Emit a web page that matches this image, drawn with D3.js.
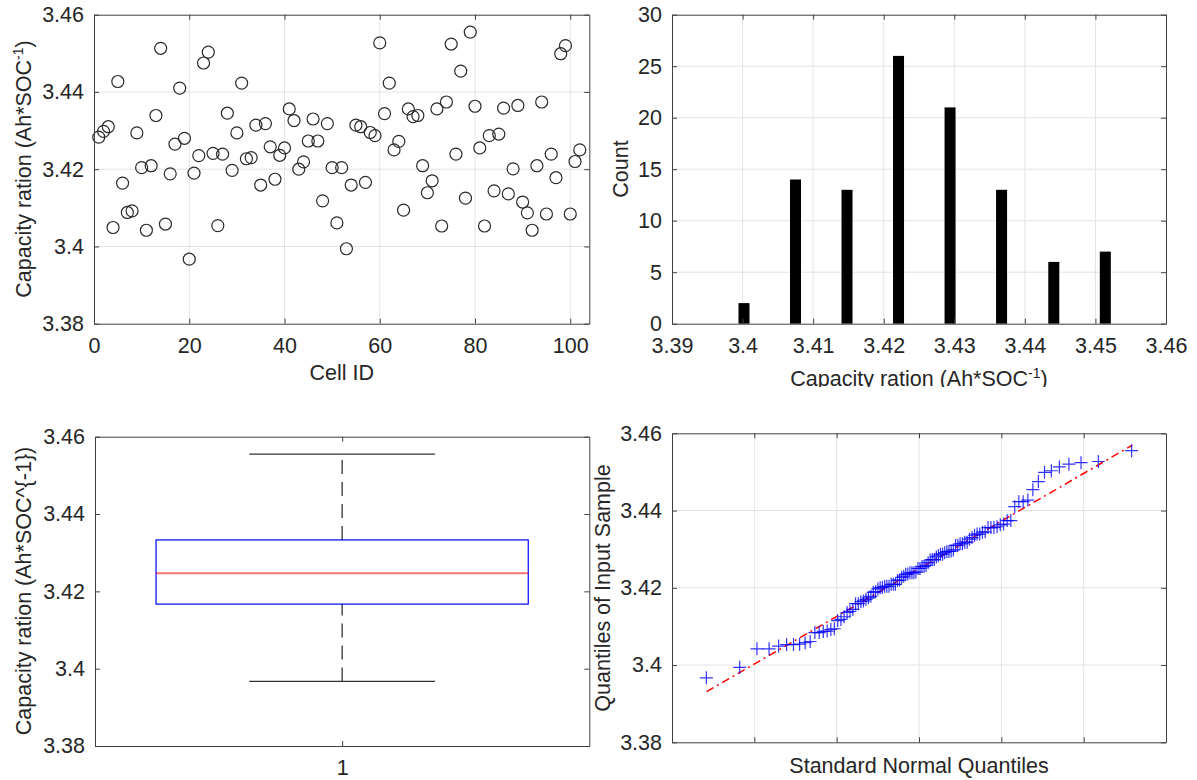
<!DOCTYPE html>
<html>
<head>
<meta charset="utf-8">
<script src="https://cdn.jsdelivr.net/npm/d3@7/dist/d3.min.js"></script>
<style>
body { margin: 0; background: #fff; }
svg text { font-family: "Liberation Sans", Arial, Helvetica, sans-serif; fill: #262626; }
</style>
</head>
<body>
<div id="fig"></div>
<script>

// capacity ratio per cell, cell 1..102
var capacity = [
    3.4283, 3.4298, 3.4310, 3.4049, 3.4427, 3.4164, 3.4088, 3.4092, 3.4294, 3.4204,
    3.4042, 3.4209, 3.4339, 3.4513, 3.4058, 3.4188, 3.4265, 3.4410, 3.4280, 3.3967,
    3.4190, 3.4235, 3.4475, 3.4503, 3.4241, 3.4054, 3.4239, 3.4345, 3.4197, 3.4294,
    3.4423, 3.4227, 3.4230, 3.4314, 3.4159, 3.4318, 3.4258, 3.4174, 3.4236, 3.4255,
    3.4356, 3.4326, 3.4200, 3.4219, 3.4273, 3.4330, 3.4273, 3.4118, 3.4318, 3.4204,
    3.4061, 3.4204, 3.3994, 3.4159, 3.4314, 3.4310, 3.4166, 3.4295, 3.4287, 3.4527,
    3.4344, 3.4423, 3.4250, 3.4272, 3.4094, 3.4356, 3.4336, 3.4339, 3.4209, 3.4139,
    3.4170, 3.4356, 3.4053, 3.4374, 3.4524, 3.4239, 3.4454, 3.4125, 3.4555, 3.4363,
    3.4255, 3.4053, 3.4287, 3.4144, 3.4291, 3.4358, 3.4136, 3.4201, 3.4365, 3.4115,
    3.4087, 3.4042, 3.4209, 3.4374, 3.4084, 3.4239, 3.4178, 3.4499, 3.4520, 3.4084,
    3.4220, 3.4250
];
var cellId = d3.range(1, capacity.length + 1);

// histogram (8 bins)
var histCenters = [3.4002, 3.4075, 3.4148, 3.4221, 3.4294, 3.4367, 3.4441, 3.4514];
var histCounts = [2, 14, 13, 26, 21, 13, 6, 7];

// boxplot: lower whisker, q1, median, q3, upper whisker
var boxStats = [3.3967, 3.4167, 3.4247, 3.4333, 3.4555];

// qq reference line end points
var qqLineX = [-2.58, 2.59];
var qqLineY = [3.3931, 3.4569];

// ticks
var capTicks = [3.38, 3.40, 3.42, 3.44, 3.46];
var cellTicks = [0, 20, 40, 60, 80, 100];
var histXTicks = [3.39, 3.40, 3.41, 3.42, 3.43, 3.44, 3.45, 3.46];
var countTicks = [0, 5, 10, 15, 20, 25, 30];
var qqXTicks = [-2, -1, 0, 1, 2];

var fmt = d3.format("~g");
var axisColor = "#404040";
var gridColor = "#e3e3e3";
var fontSize = 21.5;

var svg = d3.select("#fig")
    .append("svg")
    .attr("width", 1197)
    .attr("height", 780);

// inverse normal cdf (Acklam)
function norminv(p) {
    var a = [-39.69683028665376, 220.9460984245205, -275.9285104469687, 138.3577518672690, -30.66479806614716, 2.506628277459239];
    var b = [-54.47609879822406, 161.5858368580409, -155.6989798598866, 66.80131188771972, -13.28068155288572];
    var c = [-0.007784894002430293, -0.3223964580411365, -2.400758277161838, -2.549732539343734, 4.374664141464968, 2.938163982698783];
    var d = [0.007784695709041462, 0.3224671290700398, 2.445134137142996, 3.754408661907416];
    var q, r;
    if (p < 0.02425) {
        q = Math.sqrt(-2 * Math.log(p));
        return (((((c[0]*q+c[1])*q+c[2])*q+c[3])*q+c[4])*q+c[5]) / ((((d[0]*q+d[1])*q+d[2])*q+d[3])*q+1);
    }
    if (p > 1 - 0.02425) {
        q = Math.sqrt(-2 * Math.log(1 - p));
        return -(((((c[0]*q+c[1])*q+c[2])*q+c[3])*q+c[4])*q+c[5]) / ((((d[0]*q+d[1])*q+d[2])*q+d[3])*q+1);
    }
    q = p - 0.5; r = q * q;
    return (((((a[0]*r+a[1])*r+a[2])*r+a[3])*r+a[4])*r+a[5])*q / (((((b[0]*r+b[1])*r+b[2])*r+b[3])*r+b[4])*r+1);
}

// grid lines behind the data
function drawGrid(g, x, y, xt, yt) {
    var xr = x.range(), yr = y.range();
    g.selectAll(".gx").data(xt).join("line")
        .attr("x1", function (d) { return x(d); })
        .attr("x2", function (d) { return x(d); })
        .attr("y1", yr[0]).attr("y2", yr[1])
        .attr("stroke", gridColor).attr("stroke-width", 1);
    g.selectAll(".gy").data(yt).join("line")
        .attr("x1", xr[0]).attr("x2", xr[1])
        .attr("y1", function (d) { return y(d); })
        .attr("y2", function (d) { return y(d); })
        .attr("stroke", gridColor).attr("stroke-width", 1);
}

// box + inward ticks on all four sides
function drawAxes(g, x, y, xt, yt, showXLabels) {
    var xr = x.range(), yr = y.range();
    var bottom = g.append("g")
        .attr("transform", "translate(0," + yr[0] + ")")
        .call(d3.axisBottom(x).tickValues(xt).tickSizeInner(-5).tickSizeOuter(0).tickPadding(14)
            .tickFormat(showXLabels ? fmt : ""));
    var top = g.append("g")
        .attr("transform", "translate(0," + yr[1] + ")")
        .call(d3.axisTop(x).tickValues(xt).tickSizeInner(-5).tickSizeOuter(0).tickFormat(""));
    var left = g.append("g")
        .attr("transform", "translate(" + xr[0] + ",0)")
        .call(d3.axisLeft(y).tickValues(yt).tickSizeInner(-5).tickSizeOuter(0).tickPadding(10).tickFormat(fmt));
    var right = g.append("g")
        .attr("transform", "translate(" + xr[1] + ",0)")
        .call(d3.axisRight(y).tickValues(yt).tickSizeInner(-5).tickSizeOuter(0).tickFormat(""));
    [bottom, top, left, right].forEach(function (a) {
        a.selectAll("path, line").attr("stroke", axisColor).attr("stroke-width", 1);
        a.selectAll("text").attr("font-size", fontSize).attr("fill", "#262626")
            .style("font-family", "'Liberation Sans', Arial, sans-serif");
    });
}

function capLabel(g, x, y, rotate, texStyle) {
    var t = g.append("text")
        .attr("font-size", fontSize)
        .attr("text-anchor", "middle");
    if (rotate) t.attr("transform", "translate(" + x + "," + y + ") rotate(-90)").attr("dy", "0.35em");
    else t.attr("x", x).attr("y", y);
    if (texStyle) {
        t.text("Capacity ration (Ah*SOC^{-1})");
    } else {
        t.append("tspan").text("Capacity ration (Ah*SOC");
        t.append("tspan").attr("font-size", 14).attr("dy", "-0.55em").text("-1");
        t.append("tspan").attr("dy", "0.37em").text(")");
    }
    return t;
}

// ---------- top left: scatter ----------
var x1 = d3.scaleLinear().domain([0, 104]).range([94, 589.3]);
var y1 = d3.scaleLinear().domain([3.38, 3.46]).range([323.7, 14.7]);
var p1 = svg.append("g");
drawGrid(p1.append("g"), x1, y1, cellTicks.slice(1), capTicks.slice(1, -1));
p1.append("g").selectAll("circle")
    .data(capacity)
    .join("circle")
    .attr("cx", function (d, i) { return x1(cellId[i]); })
    .attr("cy", function (d) { return y1(d); })
    .attr("r", 6)
    .attr("fill", "none")
    .attr("stroke", "#2a2a2a")
    .attr("stroke-width", 1.2);
drawAxes(p1, x1, y1, cellTicks, capTicks, true);
capLabel(p1, 23, 169, true, false);
p1.append("text").attr("x", 341.7).attr("y", 380).attr("font-size", fontSize)
    .attr("text-anchor", "middle").text("Cell ID");

// ---------- top right: histogram ----------
var x2 = d3.scaleLinear().domain([3.39, 3.46]).range([672, 1166]);
var y2 = d3.scaleLinear().domain([0, 30]).range([323.7, 14.7]);
var p2 = svg.append("g");
drawGrid(p2.append("g"), x2, y2, histXTicks.slice(1, -1), countTicks.slice(1, -1));
var barHalf = 0.00078;
p2.append("g").selectAll("rect")
    .data(histCounts)
    .join("rect")
    .attr("x", function (d, i) { return x2(histCenters[i] - barHalf); })
    .attr("width", function (d, i) { return x2(histCenters[i] + barHalf) - x2(histCenters[i] - barHalf); })
    .attr("y", function (d) { return y2(d); })
    .attr("height", function (d) { return y2(0) - y2(d); })
    .attr("fill", "#000");
drawAxes(p2, x2, y2, histXTicks, countTicks, true);
p2.append("text")
    .attr("transform", "translate(620,169) rotate(-90)")
    .attr("dy", "0.35em")
    .attr("font-size", fontSize)
    .attr("text-anchor", "middle")
    .text("Count");
svg.append("defs").append("clipPath").attr("id", "topclip")
    .append("rect").attr("x", 600).attr("y", 340).attr("width", 597).attr("height", 47);
var histLab = p2.append("g").attr("clip-path", "url(#topclip)");
capLabel(histLab, 919, 386, false, false);

// ---------- bottom left: boxplot ----------
var x3 = d3.scaleLinear().domain([0.5, 1.5]).range([95, 589.3]);
var y3 = d3.scaleLinear().domain([3.38, 3.46]).range([746, 436.7]);
var p3 = svg.append("g");
var boxHalf = 0.3765, capHalf = 0.188;
// whiskers
p3.append("g").selectAll("line")
    .data([[boxStats[0], boxStats[1]], [boxStats[3], boxStats[4]]])
    .join("line")
    .attr("x1", x3(1)).attr("x2", x3(1))
    .attr("y1", function (d) { return y3(d[0]); })
    .attr("y2", function (d) { return y3(d[1]); })
    .attr("stroke", "#333")
    .attr("stroke-width", 1.3)
    .attr("stroke-dasharray", "14,8");
p3.append("g").selectAll("line")
    .data([boxStats[0], boxStats[4]])
    .join("line")
    .attr("x1", x3(1 - capHalf)).attr("x2", x3(1 + capHalf))
    .attr("y1", function (d) { return y3(d); })
    .attr("y2", function (d) { return y3(d); })
    .attr("stroke", "#333")
    .attr("stroke-width", 1.2);
p3.append("rect")
    .attr("x", x3(1 - boxHalf))
    .attr("width", x3(1 + boxHalf) - x3(1 - boxHalf))
    .attr("y", y3(boxStats[3]))
    .attr("height", y3(boxStats[1]) - y3(boxStats[3]))
    .attr("fill", "none")
    .attr("stroke", "#0000ff")
    .attr("stroke-width", 1.2);
p3.append("line")
    .attr("x1", x3(1 - boxHalf)).attr("x2", x3(1 + boxHalf))
    .attr("y1", y3(boxStats[2])).attr("y2", y3(boxStats[2]))
    .attr("stroke", "#ff0000")
    .attr("stroke-opacity", 0.55)
    .attr("stroke-width", 2);
drawAxes(p3, x3, y3, [1], capTicks, true);
capLabel(p3, 23, 591, true, true);

// ---------- bottom right: normal qq plot ----------
var x4 = d3.scaleLinear().domain([-3, 3]).range([672, 1166]);
var y4 = d3.scaleLinear().domain([3.38, 3.46]).range([742.3, 433.3]);
var p4 = svg.append("g");
drawGrid(p4.append("g"), x4, y4, qqXTicks, capTicks.slice(1, -1));
var sorted = capacity.slice().sort(d3.ascending);
var n = sorted.length;
p4.append("line")
    .attr("x1", x4(qqLineX[0])).attr("y1", y4(qqLineY[0]))
    .attr("x2", x4(qqLineX[1])).attr("y2", y4(qqLineY[1]))
    .attr("stroke", "#ff0000")
    .attr("stroke-width", 1.5)
    .attr("stroke-dasharray", "8,4,2,4");
p4.append("g").selectAll("path")
    .data(sorted)
    .join("path")
    .attr("transform", function (d, i) {
        return "translate(" + x4(norminv((i + 0.5) / n)) + "," + y4(d) + ")";
    })
    .attr("d", "M-6.5,0H6.5M0,-6.5V6.5")
    .attr("stroke", "#0000ff")
    .attr("stroke-opacity", 0.8)
    .attr("stroke-width", 1.2)
    .attr("fill", "none");
drawAxes(p4, x4, y4, qqXTicks, capTicks, false);
p4.append("text")
    .attr("transform", "translate(602,588) rotate(-90)")
    .attr("dy", "0.35em")
    .attr("font-size", fontSize)
    .attr("text-anchor", "middle")
    .text("Quantiles of Input Sample");
p4.append("text").attr("x", 919).attr("y", 773).attr("font-size", fontSize)
    .attr("text-anchor", "middle").text("Standard Normal Quantiles");

</script>
</body>
</html>
